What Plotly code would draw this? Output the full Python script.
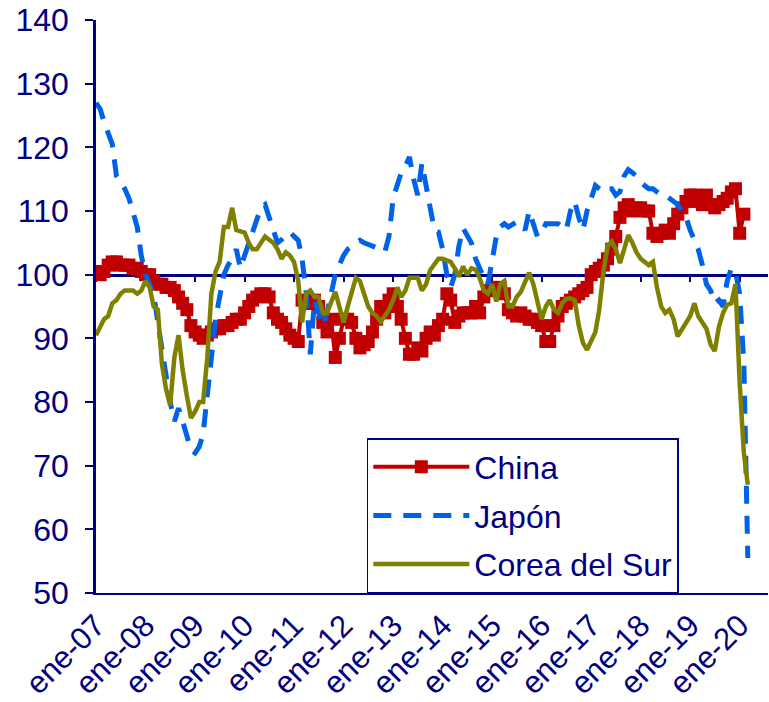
import pandas as pd
import plotly.graph_objects as go

meses = pd.date_range("2007-01-01", periods=159, freq="MS")

china = [100.5, 100, 100.5, 101.5, 102, 102, 101.5, 101.5, 101.5, 101, 101, 100.5,
         100, 100, 99, 98.5, 98.5, 98, 98, 97.5, 96.5, 95.5, 94.5, 92,
         91, 90.5, 90, 90.5, 91, 91.5, 91.5, 92, 92, 92.5, 93, 93,
         94, 95, 96, 96.5, 97, 97, 96.5, 94, 93, 92.5, 91.5, 90.5,
         90, 89.5, 96, 95.5, 95.5, 96, 95, 92.5, 91, 93, 87, 90,
         93, 93, 92.5, 90, 88.5, 89, 89.5, 91, 93, 95, 94, 96,
         97, 95, 93, 90, 87.5, 87.5, 88.5, 88, 90, 91, 90.5, 92,
         93, 97, 96, 92.5, 93.5, 94, 94, 94, 95, 94, 96.5, 97.5,
         98, 97.5, 98, 97, 94.5, 94, 93.5, 94, 93.5, 93, 93, 92.5,
         92, 89.5, 89.5, 92, 93.5, 95, 95.5, 96, 96.5, 97, 97.5, 98,
         100, 100.5, 101, 101.5, 102.5, 104, 106, 109, 110.5, 111, 110, 110.5,
         110.5, 110, 110, 106.5, 106, 106.5, 107, 106.5, 108, 109.5, 110.5, 111.5,
         112.5, 112.5, 111.5, 111, 112.5, 111, 110.5, 111, 111.5, 112, 113, 113.5,
         106.5, 109.5]

japon = [127, 126, 124, 122, 120.5, 115.5, 114.5, 113.5, 112, 110, 107.5, 103,
         100, 98.5, 97, 92.5, 88, 84, 80, 77, 79, 77, 75, 72.5,
         72, 73, 75, 81, 88, 93, 96.5, 100, 101.5, 102.5, 104, 101,
         103, 105, 107, 109, 110.5, 111, 109, 106.5, 105, 105.5, 106, 106.7,
         106, 105.4, 102.5, 97, 87.5, 96, 94, 92, 94, 97, 100, 101.5,
         103, 104, 104.4, 105, 105.4, 105, 104.8, 104.5, 104.2, 104, 103.6, 106,
         112, 114.5, 116, 117, 118.5, 115, 112.5, 117.5, 114, 110, 107, 106.7,
         104, 100, 98, 100, 104.5, 107.3, 106, 105, 102.5, 101, 99.5, 98.5,
         102, 106, 107.5, 108, 107.5, 108, 108.3, 108, 107, 110, 108, 106,
         106.5, 108, 108, 108, 108, 107.5, 107, 110, 111.5, 109, 107, 110,
         112, 114, 113.5, 113, 113.5, 113.5, 112.5, 113, 115.5, 116.5, 116, 115.5,
         114.5, 114, 113.5, 113.5, 113, 112.5, 112.5, 112, 111.5, 111, 110, 109,
         107, 105.5, 104, 101.5, 98.5, 97.5, 95.5, 96, 95, 99, 101, 100.5,
         97, 86, 55.5]

corea = [90.5, 92, 93, 93.5, 95.5, 96, 97, 97.5, 97.5, 97.5, 97, 97.5,
         99, 98, 95, 94.5, 86, 82, 79.5, 87, 90.5, 85, 81, 77.5,
         78.5, 80, 80, 87, 97, 100.5, 102, 107.5, 107.5, 110.5, 107, 106.8,
         106.6, 105, 104, 104, 105, 106, 105.5, 105, 104, 102.5, 103.5, 103,
         102, 99, 92.5, 97, 97.5, 96.5, 96.5, 94, 94, 95.5, 97.3, 95,
         92.5, 95, 97, 99.5, 99, 97, 95, 94, 93.5, 92.6, 93.5, 94.5,
         96, 98, 96.5, 97.5, 99.5, 99.5, 99.5, 97.5, 98.5, 100.7, 101.5, 102.5,
         102.5, 102.3, 102, 101, 99.7, 101.3, 100, 101, 100.8, 99.5, 97.5, 97,
         98.5, 95.8, 98.5, 99, 95, 95, 96.5, 97.3, 99, 100.3, 98.5, 95.5,
         93, 95, 96, 94.5, 94, 95.5, 96.2, 96.3, 96, 92, 89.3, 88.2,
         89.5, 91, 94.5, 100.5, 104.5, 105.2, 104, 101.8, 104, 106.2, 105, 103.5,
         102.5, 102, 101.5, 102, 98, 95, 94, 94.5, 93, 90.3, 91.5, 92.4,
         93.5, 95.5, 93.5, 92.5, 91.5, 89, 88, 91.8, 94, 95.3, 95.5, 98.5,
         83, 72, 67]

anios = list(range(2007, 2021))
ticks_x = [pd.Timestamp(a, 1, 1) for a in anios]
etiquetas_x = ["ene-%02d" % (a % 100) for a in anios]

azul_osc = "#000080"
fuente = "Liberation Sans, Arial, sans-serif"

fig = go.Figure()
fig.add_trace(go.Scatter(
    x=meses[:len(china)], y=china, name="China", mode="lines+markers",
    line=dict(color="#C00000", width=4),
    marker=dict(symbol="square", size=13, color="#C00000"),
    legendgroup="a"))
fig.add_trace(go.Scatter(
    x=meses[:len(japon)], y=japon, name="Japón", mode="lines",
    line=dict(color="#0062E8", width=5, dash="18px,12px"),
    legendgroup="b"))
fig.add_trace(go.Scatter(
    x=meses[:len(corea)], y=corea, name="Corea del Sur", mode="lines",
    line=dict(color="#808000", width=4.5),
    xaxis="x2", legendgroup="c"))

rango_x = [pd.Timestamp(2007, 1, 1), pd.Timestamp(2020, 7, 28)]

fig.update_layout(
    width=769, height=702,
    margin=dict(l=96, r=1, t=20, b=109),
    paper_bgcolor="white", plot_bgcolor="white",
    font=dict(family=fuente, color=azul_osc, size=32),
    showlegend=True,
    legend=dict(
        x=0.403, y=0, xanchor="left", yanchor="bottom",
        bgcolor="white", bordercolor=azul_osc, borderwidth=1.5,
        font=dict(size=32, color=azul_osc),
        itemwidth=96, traceorder="grouped", tracegroupgap=4,
    ),
    xaxis=dict(
        range=rango_x, tickvals=ticks_x, ticktext=etiquetas_x,
        tickangle=-45, tickfont=dict(size=31),
        showgrid=False, zeroline=False, ticks="",
        showline=True, linecolor=azul_osc, linewidth=2,
        automargin=False,
    ),
    xaxis2=dict(
        overlaying="x", matches="x", anchor="free", position=50 / 90,
        tickvals=ticks_x, showticklabels=False,
        showgrid=False, zeroline=False,
        ticks="outside", ticklen=6, tickwidth=2, tickcolor=azul_osc,
        showline=True, linecolor=azul_osc, linewidth=2.5,
        layer="below traces",
    ),
    yaxis=dict(
        range=[50, 140], dtick=10, tick0=50,
        showgrid=False, zeroline=False,
        ticks="outside", ticklen=8, tickwidth=2, tickcolor=azul_osc,
        showline=True, linecolor=azul_osc, linewidth=2.5,
        tickfont=dict(size=32), ticklabelstandoff=10,
        automargin=False,
    ),
)

# quitar el margen por defecto del body para que la figura ocupe toda la ventana
fig.write_html("out.html", config={"displayModeBar": False},
               post_script="document.body.style.margin='0';")
